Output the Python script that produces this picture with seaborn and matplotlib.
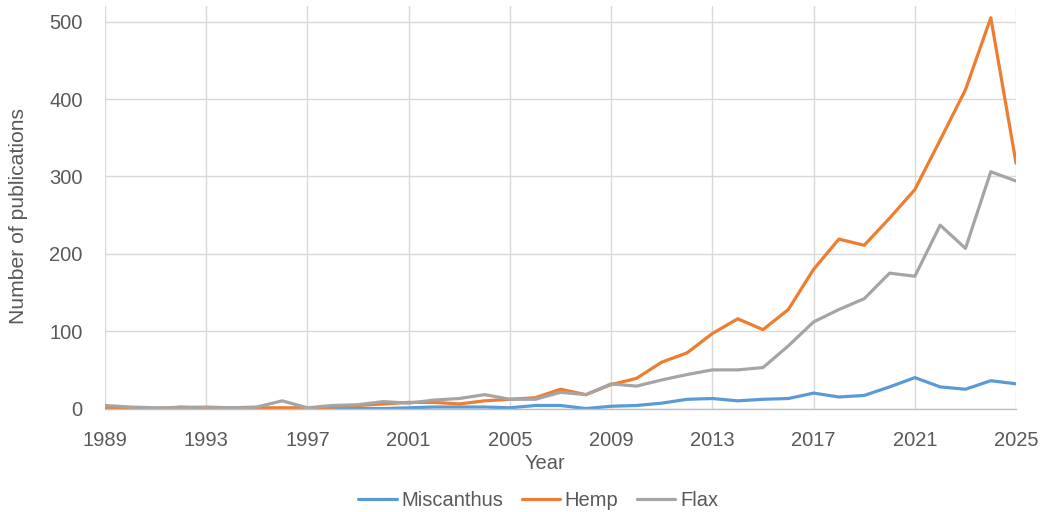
import pandas as pd
import numpy as np
import matplotlib.pyplot as plt
import seaborn as sns

# data
years = [1989, 1990, 1991, 1992, 1993, 1994, 1995, 1996, 1997, 1998,
         1999, 2000, 2001, 2002, 2003, 2004, 2005, 2006, 2007, 2008,
         2009, 2010, 2011, 2012, 2013, 2014, 2015, 2016, 2017, 2018,
         2019, 2020, 2021, 2022, 2023, 2024, 2025]

miscanthus = [0, 0, 0, 0, 0, 0, 0, 0, 0, 0,
              0, 0, 1, 2, 2, 2, 1, 4, 4, 0,
              3, 4, 7, 12, 13, 10, 12, 13, 20, 15,
              17, 28, 40, 28, 25, 36, 32]

hemp = [1, 0, 0, 2, 1, 1, 1, 1, 1, 2,
        4, 6, 8, 8, 6, 10, 12, 14, 25, 18,
        31, 39, 60, 72, 97, 116, 102, 128, 180, 219,
        211, 246, 283, 347, 412, 505, 317]

flax = [4, 2, 1, 1, 2, 1, 2, 10, 1, 4,
        5, 9, 7, 11, 13, 18, 12, 12, 21, 18,
        32, 29, 37, 44, 50, 50, 53, 81, 112, 128,
        142, 175, 171, 237, 207, 306, 294]

series_names = ['Miscanthus', 'Hemp', 'Flax']
series_colors = ['#5b9bd5', '#ed7d31', '#a5a5a5']
x_ticks = [1989, 1993, 1997, 2001, 2005, 2009, 2013, 2017, 2021, 2025]
y_ticks = [0, 100, 200, 300, 400, 500]

# long format for seaborn
df = pd.concat([
    pd.DataFrame({'Year': years, 'Publications': vals, 'Crop': name})
    for name, vals in zip(series_names, [miscanthus, hemp, flax])
])

sns.set_theme(style='white')
plt.rcParams['font.family'] = ['Liberation Sans', 'DejaVu Sans']
text_col = '#595959'
grid_col = '#d9d9d9'
fs = 14.5

fig = plt.figure(figsize=(10.43, 5.12), dpi=100)
ax = fig.add_axes([0.1007, 0.202, 0.8735, 0.786])

sns.lineplot(data=df, x='Year', y='Publications', hue='Crop',
             hue_order=series_names, palette=series_colors,
             linewidth=2.3, ax=ax, legend=False)
for ln in ax.get_lines():
    ln.set_solid_joinstyle('round')
    ln.set_solid_capstyle('round')

ax.set_xlim(1989, 2025)
ax.set_ylim(0, 520)
ax.set_xticks(x_ticks)
ax.set_yticks(y_ticks)
ax.grid(True, color=grid_col, linewidth=1)
ax.set_axisbelow(True)
for side in ['top', 'right', 'left']:
    ax.spines[side].set_visible(False)
ax.spines['bottom'].set_color('#bfbfbf')
ax.spines['bottom'].set_linewidth(1)

ax.tick_params(axis='both', length=0, labelsize=fs, labelcolor=text_col)
ax.tick_params(axis='y', pad=16)
ax.tick_params(axis='x', pad=16.5)

ax.set_xlabel('Year', fontsize=fs, color=text_col)
ax.set_ylabel('Number of publications', fontsize=15.2, color=text_col)
ax.xaxis.set_label_coords(0.483, -0.113)
ax.yaxis.set_label_coords(-0.0845, 0.478)

handles = [plt.Line2D([], [], color=c, linewidth=2.3) for c in series_colors]
fig.legend(handles, series_names, loc='center', bbox_to_anchor=(0.516, 0.022),
           ncol=3, frameon=False, fontsize=fs, labelcolor=text_col,
           handlelength=1.9, handletextpad=0.25, columnspacing=0.9)

fig.savefig('out.png', dpi=100)
